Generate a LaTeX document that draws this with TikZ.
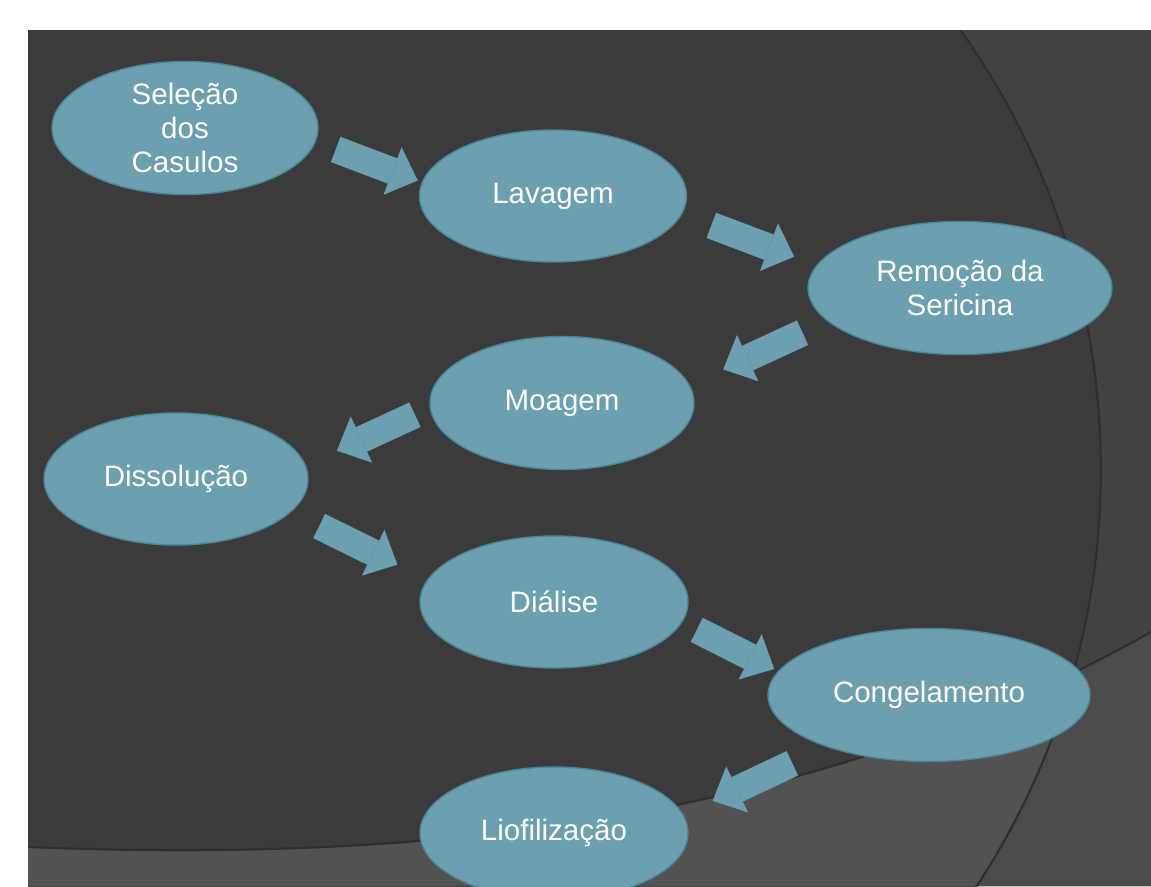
\documentclass[tikz,border=0pt]{standalone}
\usepackage{fontspec}
\setmainfont{Liberation Sans}
\usetikzlibrary{arrows.meta,shapes.geometric}
\definecolor{Slate}{HTML}{3B3B3B}
\definecolor{SlateRight}{HTML}{424242}
\definecolor{SlateLow}{HTML}{525252}
\definecolor{SlateLowRight}{HTML}{4B4B4B}
\definecolor{SlateEdge}{HTML}{2E2E2E}
\definecolor{Teal}{HTML}{6C9FB0}
\definecolor{TealDark}{HTML}{4F8697}

\begin{document}
\begin{tikzpicture}[x=0.02cm, y=-0.02cm,
  stage/.style={ellipse, fill=Teal, draw=TealDark, line width=0.8pt,
    text=white, align=center, inner sep=0pt, outer sep=0pt,
    font=\fontsize{16.8}{19.6}\selectfont},
  flow/.style={draw=Teal, line width=0.54cm,
    -{Triangle[length=0.54cm, width=1.02cm, line width=0pt]}}]

  \useasboundingbox (0,0) rectangle (1151,886);

  % -------------------------------------------------------
  % Slide background (1 unit = 1 px of the slide)
  % -------------------------------------------------------
  \begin{scope}
    \clip (28,30) rectangle (1151,886);

    % Dark panel
    \fill[Slate] (28,30) rectangle (1151,886);

    % Lighter part outside the big arc
    \fill[SlateRight, even odd rule] (28,30) rectangle (1151,886)
      (342,470) circle[radius=15.18cm];

    % Band below the lower sweep
    \fill[SlateLow] (28,847) .. controls (400,862) and (800,830) .. (1151,632)
      -- (1151,886) -- (28,886) -- cycle;
    \begin{scope}
      \clip (28,847) .. controls (400,862) and (800,830) .. (1151,632)
        -- (1151,886) -- (28,886) -- cycle;
      \fill[SlateLowRight, even odd rule] (28,30) rectangle (1151,886)
        (342,470) circle[radius=15.18cm];
    \end{scope}

    % Soft edges of the arcs
    \draw[SlateEdge, line width=1.2pt] (342,470) circle[radius=15.18cm];
    \draw[SlateEdge, line width=1.2pt]
      (28,847) .. controls (400,862) and (800,830) .. (1151,632);
  \end{scope}

  % -------------------------------------------------------
  % Process steps
  % -------------------------------------------------------
  \node[stage, minimum width=5.32cm, minimum height=2.66cm] (sel) at (185,128)
    {Seleção\\dos\\Casulos};
  \node[stage, minimum width=5.34cm, minimum height=2.64cm] (lav) at (553,196)
    {Lavagem};
  \node[stage, minimum width=6.08cm, minimum height=2.66cm] (rem) at (960,288)
    {Remoção da\\Sericina};
  \node[stage, minimum width=5.28cm, minimum height=2.66cm] (moa) at (562,403)
    {Moagem};
  \node[stage, minimum width=5.28cm, minimum height=2.64cm] (dis) at (176,479)
    {Dissolução};
  \node[stage, minimum width=5.36cm, minimum height=2.64cm] (dia) at (554,602)
    {Diálise};
  \node[stage, minimum width=6.44cm, minimum height=2.66cm] (con) at (929,695)
    {Congelamento};
  \node[stage, minimum width=5.36cm, minimum height=2.64cm] (lio) at (554,833)
    {Liofilização};

  % -------------------------------------------------------
  % Block arrows (gaps set with shorten)
  % -------------------------------------------------------
  \draw[flow, shorten <=0.44cm, shorten >=0.10cm] (sel.-6.7)   -- (lav.174.7);
  \draw[flow, shorten <=0.64cm, shorten >=0.49cm] (lav.-8.2)   -- (rem.171.7);
  \draw[flow, shorten <=0.56cm, shorten >=0.75cm] (rem.-166.6) -- (moa.8.0);
  \draw[flow, shorten <=0.34cm, shorten >=0.70cm] (moa.-178.3) -- (dis.6.3);
  \draw[flow, shorten <=0.64cm, shorten >=0.68cm] (dis.-16.6)  -- (dia.170.8);
  \draw[flow, shorten <=0.34cm, shorten >=0.10cm] (dia.-9.5)   -- (con.171.5);
  \draw[flow, shorten <=0.78cm, shorten >=0.66cm] (con.-153.5) -- (lio.8.3);

\end{tikzpicture}
\end{document}
